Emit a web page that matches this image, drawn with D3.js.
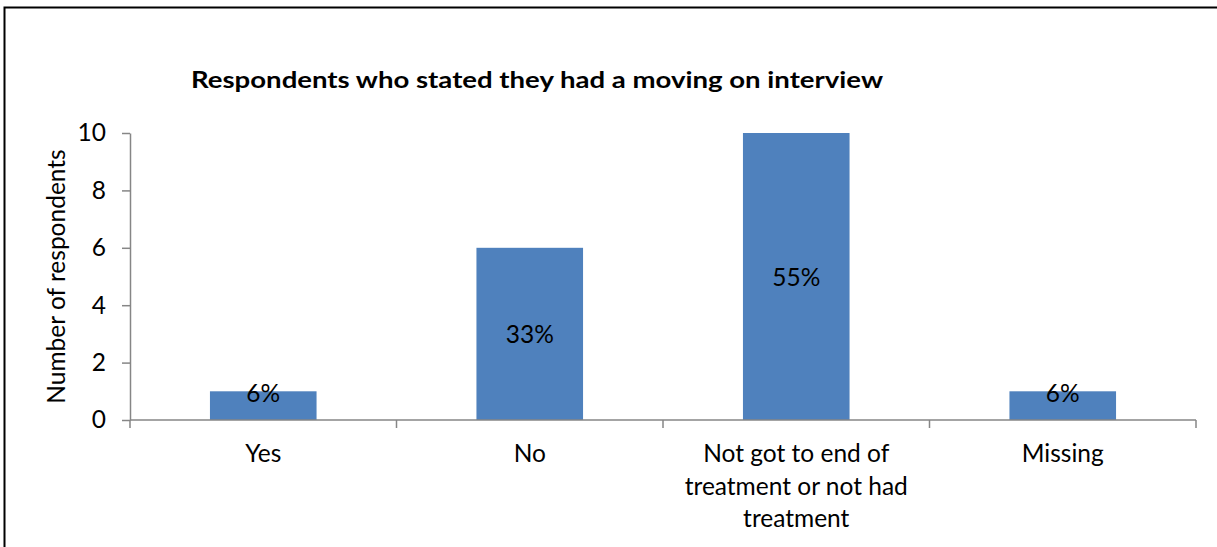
<!DOCTYPE html>
<html>
<head>
<meta charset="utf-8">
<script src="https://cdn.jsdelivr.net/npm/d3@7"></script>
<style>
  html, body { margin: 0; padding: 0; background: #fff; }
  svg { display: block; }
  text { font-family: Lato, "Open Sans", sans-serif; fill: #000; }
</style>
</head>
<body>
<svg id="chart" width="1217" height="547"></svg>
<script>
// Chart data
const categories = ["Yes", "No", "Not got to end of treatment or not had treatment", "Missing"];
const categoryLines = [["Yes"], ["No"], ["Not got to end of", "treatment or not had", "treatment"], ["Missing"]];
const respondents = [1, 6, 10, 1];
const percentLabels = ["6%", "33%", "55%", "6%"];
const yTicks = [0, 2, 4, 6, 8, 10];
const titleText = "Respondents who stated they had a moving on interview";
const yAxisTitle = "Number of respondents";

const W = 1217, H = 547;
const plot = { left: 130, right: 1196, top: 133, bottom: 420 };
const barColor = "#4F81BD";
const axisColor = "#868686";
const labelSize = 24.5;

const svg = d3.select("#chart");

// outer chart frame
svg.append("rect")
  .attr("x", 4.5).attr("y", 7.5)
  .attr("width", W + 10).attr("height", H + 10)
  .attr("fill", "#fff").attr("stroke", "#000").attr("stroke-width", 2);

const x = d3.scaleBand()
  .domain(categories)
  .range([plot.left, plot.right])
  .paddingInner(0.6)
  .paddingOuter(0.3);

const y = d3.scaleLinear().domain([0, 10]).range([plot.bottom, plot.top]);

// bars
svg.append("g").selectAll("rect")
  .data(categories)
  .join("rect")
  .attr("x", d => x(d))
  .attr("width", x.bandwidth())
  .attr("y", (d, i) => y(respondents[i]))
  .attr("height", (d, i) => y(0) - y(respondents[i]))
  .attr("fill", barColor);

// y axis
const yAxis = svg.append("g")
  .attr("transform", `translate(${plot.left},0)`)
  .call(d3.axisLeft(y).tickValues(yTicks).tickSize(8).tickSizeOuter(0).tickPadding(16));
yAxis.select(".domain").attr("stroke", axisColor).attr("stroke-width", 1.5);
yAxis.selectAll(".tick line").attr("stroke", axisColor).attr("stroke-width", 1.5);
yAxis.selectAll(".tick text")
  .attr("font-size", labelSize).attr("font-family", "Lato, sans-serif").attr("fill", "#000");

// x axis: category separators
const step = x.step();
const xEdges = d3.range(categories.length + 1).map(i => plot.left + i * step);
const xAxis = svg.append("g");
xAxis.append("line")
  .attr("x1", plot.left).attr("x2", plot.right)
  .attr("y1", y(0)).attr("y2", y(0))
  .attr("stroke", axisColor).attr("stroke-width", 1.5);
xAxis.selectAll("line.sep")
  .data(xEdges)
  .join("line")
  .attr("class", "sep")
  .attr("x1", d => d).attr("x2", d => d)
  .attr("y1", y(0)).attr("y2", y(0) + 8)
  .attr("stroke", axisColor).attr("stroke-width", 1.5);

// category labels
xAxis.selectAll("text.cat")
  .data(categories)
  .join("text")
  .attr("class", "cat")
  .attr("text-anchor", "middle")
  .attr("font-size", labelSize)
  .attr("x", d => x(d) + x.bandwidth() / 2)
  .attr("y", 462)
  .each(function (d, i) {
    d3.select(this).selectAll("tspan")
      .data(categoryLines[i])
      .join("tspan")
      .attr("x", x(d) + x.bandwidth() / 2)
      .attr("dy", (t, j) => j === 0 ? 0 : 32.5)
      .text(t => t);
  });

// value labels centred in the bars
svg.append("g").selectAll("text")
  .data(categories)
  .join("text")
  .attr("text-anchor", "middle")
  .attr("dominant-baseline", "central")
  .attr("font-size", labelSize)
  .attr("x", d => x(d) + x.bandwidth() / 2)
  .attr("y", (d, i) => Math.min((y(respondents[i]) + y(0)) / 2, y(0) - 28))
  .text((d, i) => percentLabels[i]);

// title
svg.append("text")
  .attr("x", 191).attr("y", 88)
  .attr("font-family", "'Open Sans', sans-serif")
  .attr("font-size", 23)
  .attr("font-weight", "bold")
  .attr("textLength", 692)
  .attr("lengthAdjust", "spacingAndGlyphs")
  .text(titleText);

// y axis title
svg.append("text")
  .attr("transform", `translate(65,${(plot.top + plot.bottom) / 2}) rotate(-90)`)
  .attr("text-anchor", "middle")
  .attr("font-size", labelSize)
  .text(yAxisTitle);
</script>
</body>
</html>
